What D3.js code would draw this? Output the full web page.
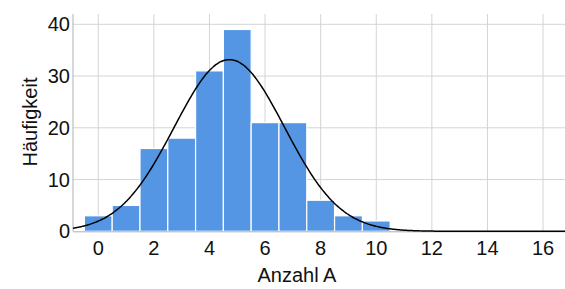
<!DOCTYPE html>
<html>
<head>
<meta charset="utf-8">
<script src="https://cdn.jsdelivr.net/npm/d3@7"></script>
<style>
  body { margin: 0; background: #fff; }
  text { font-family: "Liberation Sans", Arial, sans-serif; fill: #111; }
</style>
</head>
<body>
<script>
const w = 565
const h = 289

// histogram data (Anzahl A -> Häufigkeit)
const bins = [0, 1, 2, 3, 4, 5, 6, 7, 8, 9, 10]
const counts = [3, 5, 16, 18, 31, 39, 21, 21, 6, 3, 2]
const xTicks = [0, 2, 4, 6, 8, 10, 12, 14, 16]
const yTicks = [0, 10, 20, 30, 40]

let padding = { top: 14, left: 73, bottom: 58, right: 0 }

// normal fit from the data
const n = d3.sum(counts)
const mean = d3.sum(bins, (b, i) => b * counts[i]) / n
const sd = Math.sqrt(d3.sum(bins, (b, i) => counts[i] * (b - mean) ** 2) / (n - 1))

const svg = d3.select('body')
    .append('svg')
    .attr('width', w)
    .attr('height', h)

const x = d3.scaleLinear().domain([-0.91, 16.79]).range([padding.left, w - padding.right])
const y = d3.scaleLinear().domain([0, 40]).range([231.3, 24.3])

// grid
svg.append('g').selectAll('line.v')
    .data(xTicks).enter().append('line')
    .attr('x1', d => x(d)).attr('x2', d => x(d))
    .attr('y1', padding.top).attr('y2', y(0))
    .attr('stroke', '#d4d4d4').attr('stroke-width', 1)
svg.append('g').selectAll('line.h')
    .data(yTicks.filter(d => d > 0)).enter().append('line')
    .attr('x1', padding.left).attr('x2', w)
    .attr('y1', d => y(d)).attr('y2', d => y(d))
    .attr('stroke', '#d4d4d4').attr('stroke-width', 1)

// bars
svg.append('g').selectAll('rect')
    .data(bins).enter().append('rect')
    .attr('x', (d) => x(d - 0.5))
    .attr('y', (d, i) => y(counts[i]))
    .attr('width', x(1) - x(0))
    .attr('height', (d, i) => y(0) - y(counts[i]))
    .attr('fill', '#5596e4')
    .attr('stroke', '#ffffff')
    .attr('stroke-width', 1.2)

// axes lines
svg.append('line')
    .attr('x1', padding.left).attr('x2', padding.left)
    .attr('y1', padding.top).attr('y2', y(0))
    .attr('stroke', '#b0b0b0')
svg.append('line')
    .attr('x1', padding.left).attr('x2', w)
    .attr('y1', y(0) + 0.5).attr('y2', y(0) + 0.5)
    .attr('stroke', '#b0b0b0')

// normal curve
const xs = d3.range(-0.91, 16.8, 0.05)
const line = d3.line()
    .x(d => x(d))
    .y(d => y(n / (sd * Math.sqrt(2 * Math.PI)) * Math.exp(-0.5 * ((d - mean) / sd) ** 2)))
    .curve(d3.curveBasis)
svg.append('path')
    .datum(xs)
    .attr('d', line)
    .attr('fill', 'none')
    .attr('stroke', '#000')
    .attr('stroke-width', 1.5)

// tick labels
svg.append('g').selectAll('text')
    .data(xTicks).enter().append('text')
    .attr('x', d => x(d))
    .attr('y', 255)
    .attr('text-anchor', 'middle')
    .attr('font-size', '20px')
    .text(d => d)
svg.append('g').selectAll('text')
    .data(yTicks).enter().append('text')
    .attr('x', 70)
    .attr('y', d => y(d) + 7)
    .attr('text-anchor', 'end')
    .attr('font-size', '20px')
    .text(d => d)

// axis titles
svg.append('text')
    .attr('x', 297)
    .attr('y', 282)
    .attr('text-anchor', 'middle')
    .attr('font-size', '20px')
    .text('Anzahl A')
svg.append('text')
    .attr('transform', 'translate(37,122) rotate(-90)')
    .attr('text-anchor', 'middle')
    .attr('font-size', '20px')
    .text('Häufigkeit')
</script>
</body>
</html>
